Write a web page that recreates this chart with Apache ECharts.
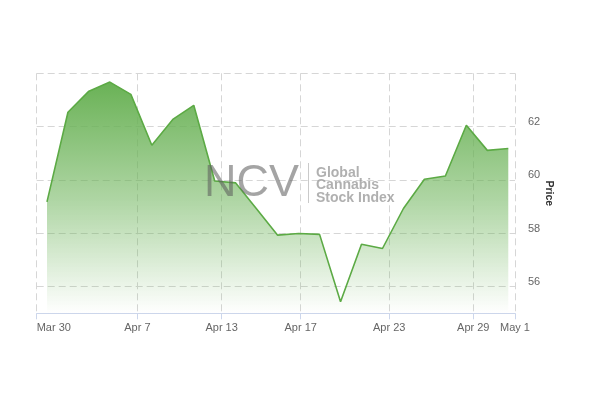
<!DOCTYPE html>
<html><head><meta charset="utf-8">
<script src="https://cdn.jsdelivr.net/npm/echarts@6/dist/echarts.min.js"></script>
<style>html,body{margin:0;padding:0;background:#fff}#c{width:600px;height:402px}</style>
</head><body><div id="c"></div>
<script>
// trading days shown (one point each, ordinal x axis)
const dates = ['Apr 1','Apr 2','Apr 3','Apr 6','Apr 7','Apr 8','Apr 9','Apr 10','Apr 13','Apr 14','Apr 15','Apr 16','Apr 17','Apr 20','Apr 21','Apr 22','Apr 23','Apr 24','Apr 27','Apr 28','Apr 29','Apr 30','May 1'];
const prices = [59.18, 62.54, 63.33, 63.67, 63.21, 61.30, 62.27, 62.80, 59.96, 59.89, 58.91, 57.93, 57.99, 57.96, 55.43, 57.59, 57.43, 58.93, 60.03, 60.15, 62.05, 61.11, 61.18];
// x tick labels and where they sit on the ordinal (point-index) axis
const tickLabels = ['Mar 30','Apr 7','Apr 13','Apr 17','Apr 23','Apr 29','May 1'];
const tickAt = [-0.49, 4.31, 8.33, 12.1, 16.32, 20.33, 22.32];
const yLabels = [56, 58, 60, 62];
const yGrid = [56, 58, 60, 62, 64];

const font = 'Liberation Sans, Arial, sans-serif';
const chart = echarts.init(document.getElementById('c'));
chart.setOption({
  animation: false,
  grid: {left: 36.7, right: 85, top: 73.3, bottom: 88.7},
  xAxis: {
    type: 'value', min: tickAt[0], max: tickAt[tickAt.length-1],
    axisLine: {show: true, lineStyle: {color: '#ccd6eb', width: 1}},
    axisTick: {show: true, length: 6, lineStyle: {color: '#ccd6eb'}, customValues: tickAt},
    axisLabel: {
      customValues: tickAt, color: '#666', fontSize: 11, fontFamily: font, margin: 9,
      showMinLabel: true, showMaxLabel: true, alignMinLabel: 'left', alignMaxLabel: 'center',
      formatter: function (v) {
        let best = 0;
        for (let i = 0; i < tickAt.length; i++) if (Math.abs(tickAt[i]-v) < Math.abs(tickAt[best]-v)) best = i;
        return tickLabels[best];
      }
    },
    splitLine: {show: true, lineStyle: {color: '#d6d6d6', type: [7, 4], width: 1}}
  },
  yAxis: {
    type: 'value', position: 'right', min: 55, max: 64,
    name: 'Price', nameLocation: 'middle', nameRotate: -90, nameGap: 28, nameMoveOverlap: false,
    nameTextStyle: {color: '#333', fontSize: 10.5, fontWeight: 'bold', fontFamily: font},
    axisLine: {show: false},
    axisTick: {show: false, customValues: yGrid},
    axisLabel: {customValues: yLabels, color: '#666', fontSize: 11, fontFamily: font, margin: 13, verticalAlign: 'bottom', padding: [0, 0, -1, 0]},
    splitLine: {show: true, lineStyle: {color: '#d6d6d6', type: [7, 4], width: 1}}
  },
  graphic: [
    {type: 'text', left: 204, top: 161, z: 100, silent: true,
     style: {text: 'NCV', font: '45px ' + font, fill: 'rgba(90,90,90,0.55)'}},
    {type: 'line', z: 100, silent: true, shape: {x1: 308.5, y1: 163, x2: 308.5, y2: 203},
     style: {stroke: 'rgba(150,150,150,0.5)', lineWidth: 1}},
    {type: 'text', left: 316, top: 166, z: 100, silent: true,
     style: {text: 'Global\nCannabis\nStock Index', font: 'bold 14px ' + font, lineHeight: 12.5, fill: 'rgba(150,150,150,0.75)'}}
  ],
  series: [{
    type: 'line',
    data: prices.map((p, i) => [i, p]),
    showSymbol: false, symbol: 'none',
    lineStyle: {color: '#5caa45', width: 1.6},
    areaStyle: {
      opacity: 1,
      color: new echarts.graphic.LinearGradient(0, 0, 0, 1, [
        {offset: 0, color: 'rgba(106,178,86,1)'},
        {offset: 0.5, color: 'rgba(106,178,86,0.55)'},
        {offset: 1, color: 'rgba(106,178,86,0)'}
      ])
    }
  }]
});
</script>
</body></html>
